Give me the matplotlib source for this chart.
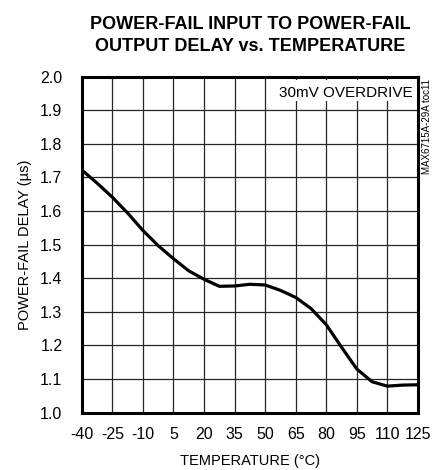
import matplotlib
matplotlib.use('Agg')
import matplotlib.pyplot as plt
import matplotlib.patches as mp
import numpy as np

plt.rcParams['font.family'] = ['Liberation Sans Narrow', 'Liberation Sans', 'DejaVu Sans']
plt.rcParams['axes.unicode_minus'] = False

# Data
temp = [-40, -32.5, -25, -17.5, -10, -2.5, 5, 12.5, 20, 27.5, 35, 42.5, 50,
        57.5, 65, 72.5, 80, 87.5, 95, 102.5, 110, 117.5, 125]
delay = [1.722, 1.683, 1.641, 1.594, 1.542, 1.497, 1.458, 1.422, 1.397, 1.376,
         1.377, 1.382, 1.380, 1.364, 1.343, 1.310, 1.262, 1.195, 1.130, 1.092,
         1.079, 1.082, 1.083]
xticks = [-40, -25, -10, 5, 20, 35, 50, 65, 80, 95, 110, 125]
yticks = [1.0, 1.1, 1.2, 1.3, 1.4, 1.5, 1.6, 1.7, 1.8, 1.9, 2.0]

fig = plt.figure(figsize=(4.33, 4.70), dpi=100)
ax = fig.add_axes([0.189, 0.122, 0.776, 0.715])

ax.plot(temp, delay, color='black', lw=2.3, zorder=4, solid_capstyle='round')

ax.set_xlim(-40, 125)
ax.set_ylim(1.0, 2.0)
ax.set_xticks(xticks)
ax.set_xticklabels([str(t) for t in xticks])
ax.set_yticks(yticks)
ax.set_yticklabels(['%.1f' % v for v in yticks])
ax.tick_params(length=0, labelsize=11.5)
ax.tick_params(axis='x', pad=10)
ax.tick_params(axis='y', pad=14)
ax.grid(True, color='0.15', lw=0.9)
ax.set_axisbelow(True)
for s in ax.spines.values():
    s.set_linewidth(2.2)
    s.set_zorder(6)

# white label box in upper right
ax.add_patch(mp.Rectangle((0.55, 0.927), 0.445, 0.063, transform=ax.transAxes,
                          facecolor='white', edgecolor='none', zorder=3))
ax.text(0.985, 0.952, '30mV OVERDRIVE', transform=ax.transAxes, ha='right',
        va='center', fontsize=11, zorder=5)

ax.set_xlabel('TEMPERATURE (\u00b0C)', fontsize=10.5, labelpad=9)
ax.set_ylabel('POWER-FAIL DELAY (\u00b5s)', fontsize=10.5, labelpad=6)

fig.text(0.577, 0.965, 'POWER-FAIL INPUT TO POWER-FAIL\nOUTPUT DELAY vs. TEMPERATURE',
         ha='center', va='top', fontsize=13, fontweight='bold', linespacing=1.35)
fig.text(0.987, 0.73, 'MAX6715A-29A toc11', rotation=90, ha='center', va='center',
         fontsize=7)

plt.savefig('out.png', dpi=100)
